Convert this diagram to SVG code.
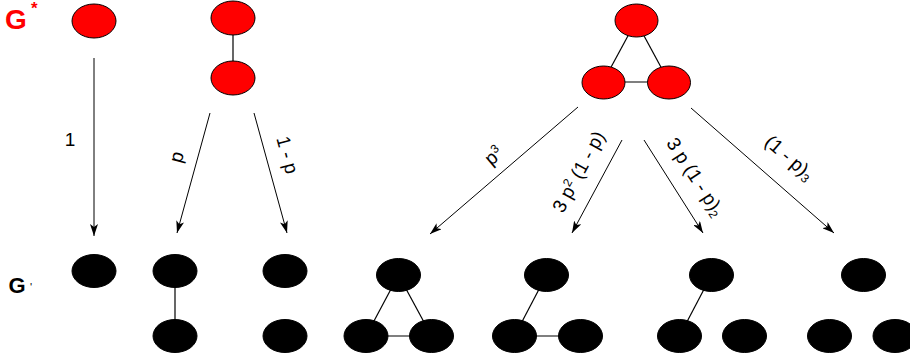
<svg xmlns="http://www.w3.org/2000/svg" width="910" height="358" viewBox="0 0 910 358">
<defs>
<style>
.r{fill:#ff0000;stroke:#000;stroke-width:1}
.b{fill:#000;stroke:#000;stroke-width:1}
.e{stroke:#000;stroke-width:1.2;fill:none}
.a{stroke:#000;stroke-width:1;fill:none;marker-end:url(#ah)}
.t{font-family:"Liberation Sans",Arial,sans-serif;font-size:19px;fill:#000}
.s{font-size:12px}
.h{font-family:"Liberation Sans",Arial,sans-serif;font-weight:bold}
</style>
<marker id="ah" viewBox="0 0 12 8" refX="12" refY="4" markerWidth="12" markerHeight="8" markerUnits="userSpaceOnUse" orient="auto">
<path d="M0,0 L12,4 L0,8 L3,4 z" fill="#000"/>
</marker>
</defs>
<rect width="910" height="358" fill="#fff"/>
<g id="labels">
<text class="h" x="5" y="29" font-size="28" fill="#ff0000">G</text>
<text class="h" x="31" y="14" font-size="17" fill="#ff0000">*</text>
<text class="h" x="8.5" y="293" font-size="22" fill="#000">G</text>
<text x="30" y="291" font-family="Liberation Sans,Arial,sans-serif" font-size="11" fill="#000">'</text>
</g>
<g id="connectors">
<line class="a" x1="94" y1="58" x2="94" y2="236"/>
<line class="a" x1="210" y1="113" x2="177" y2="233"/>
<line class="a" x1="254" y1="113" x2="287" y2="233"/>
<line class="a" x1="578" y1="107" x2="430" y2="234"/>
<line class="a" x1="622" y1="140" x2="572" y2="233"/>
<line class="a" x1="644" y1="140" x2="703" y2="233"/>
<line class="a" x1="691" y1="108" x2="834" y2="233"/>
<text class="t" x="70" y="146" text-anchor="middle">1</text>
<text class="t" text-anchor="middle" transform="translate(177,157) rotate(-74.5)" y="6">p</text>
<text class="t" text-anchor="middle" transform="translate(287,155) rotate(75)" y="6">1 - p</text>
<text class="t" text-anchor="middle" transform="translate(494,156) rotate(-40.6)" y="6">p<tspan class="s" dy="-7">3</tspan></text>
<text class="t" text-anchor="middle" transform="translate(579,172) rotate(-61.5)" y="6">3 p<tspan class="s" dy="-7">2</tspan><tspan dy="7"> (1 - p)</tspan></text>
<text class="t" text-anchor="middle" transform="translate(695,177) rotate(57)" y="6">3 p (1 - p)<tspan class="s" dy="3">2</tspan></text>
<text class="t" text-anchor="middle" transform="translate(789,158) rotate(41)" y="6">(1 - p)<tspan class="s" dy="3">3</tspan></text>
</g>
<g id="g1"><ellipse class="r" cx="94" cy="21" rx="22" ry="17"/></g>
<g id="g2">
<line class="e" x1="233" y1="18" x2="233" y2="78"/>
<ellipse class="r" cx="233" cy="18" rx="22" ry="17"/>
<ellipse class="r" cx="233" cy="78" rx="22" ry="17"/>
</g>
<g id="g3">
<line class="e" x1="636" y1="21" x2="603" y2="82"/>
<line class="e" x1="636" y1="21" x2="669" y2="82"/>
<line class="e" x1="603" y1="82" x2="669" y2="82"/>
<ellipse class="r" cx="636.5" cy="20.5" rx="21.5" ry="16.5"/>
<ellipse class="r" cx="603.5" cy="82.5" rx="21.5" ry="16.5"/>
<ellipse class="r" cx="669" cy="82.5" rx="21.5" ry="16.5"/>
</g>
<g id="h1"><ellipse class="b" cx="94" cy="271" rx="22" ry="16.5"/></g>
<g id="h2">
<line class="e" x1="175" y1="271" x2="175" y2="336"/>
<ellipse class="b" cx="175" cy="271" rx="22" ry="16.5"/>
<ellipse class="b" cx="175" cy="336" rx="22" ry="16.5"/>
</g>
<g id="h3">
<ellipse class="b" cx="285" cy="271" rx="22" ry="16.5"/>
<ellipse class="b" cx="285" cy="336" rx="22" ry="16.5"/>
</g>
<g id="h4">
<line class="e" x1="398.5" y1="275" x2="366" y2="336"/>
<line class="e" x1="398.5" y1="275" x2="431.5" y2="336"/>
<line class="e" x1="366" y1="336" x2="431.5" y2="336"/>
<ellipse class="b" cx="398.5" cy="275" rx="22" ry="16.5"/>
<ellipse class="b" cx="366" cy="336" rx="22" ry="16.5"/>
<ellipse class="b" cx="431.5" cy="336" rx="22" ry="16.5"/>
</g>
<g id="h5">
<line class="e" x1="546.5" y1="275" x2="514.5" y2="336"/>
<line class="e" x1="514.5" y1="336" x2="580.5" y2="336"/>
<ellipse class="b" cx="546.5" cy="275" rx="22" ry="16.5"/>
<ellipse class="b" cx="514.5" cy="336" rx="22" ry="16.5"/>
<ellipse class="b" cx="580.5" cy="336" rx="22" ry="16.5"/>
</g>
<g id="h6">
<line class="e" x1="711.5" y1="275" x2="679.5" y2="336"/>
<ellipse class="b" cx="711.5" cy="275" rx="22" ry="16.5"/>
<ellipse class="b" cx="679.5" cy="336" rx="22" ry="16.5"/>
<ellipse class="b" cx="744.5" cy="336" rx="22" ry="16.5"/>
</g>
<g id="h7">
<ellipse class="b" cx="863.5" cy="275" rx="22" ry="16.5"/>
<ellipse class="b" cx="829.5" cy="336" rx="22" ry="16.5"/>
<ellipse class="b" cx="895" cy="336" rx="22" ry="16.5"/>
</g>
</svg>
